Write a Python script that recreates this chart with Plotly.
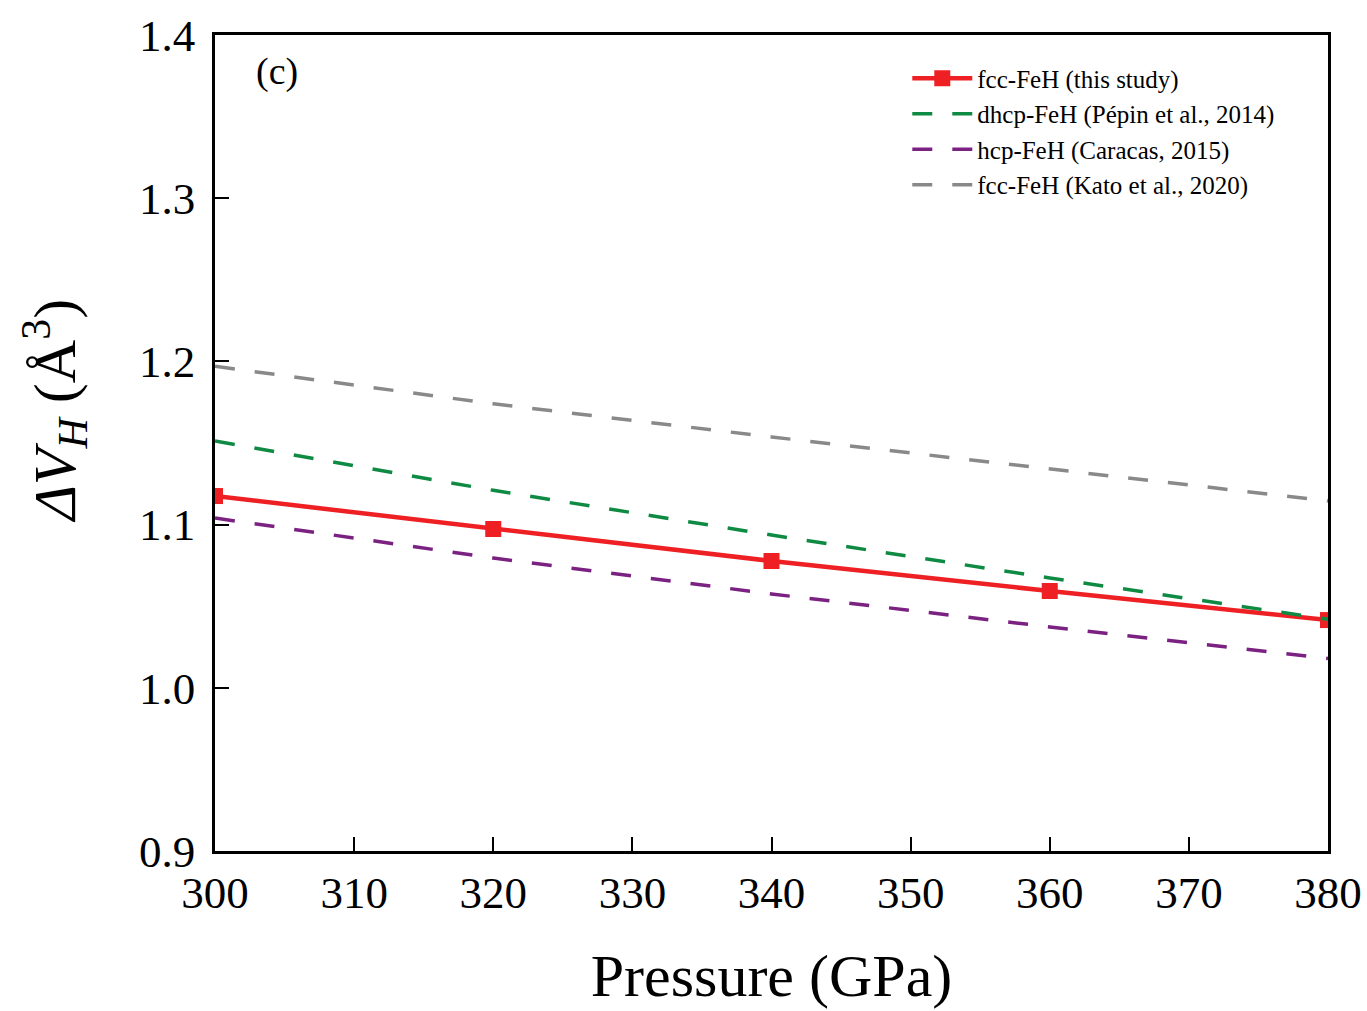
import plotly.graph_objects as go

pressure = [300, 320, 340, 360, 380]
fcc_this = [1.1175, 1.0973, 1.0777, 1.0593, 1.0415]
dhcp_pepin = [1.1512, 1.1210, 1.0936, 1.0673, 1.0420]
hcp_caracas = [1.1040, 1.0795, 1.0575, 1.0373, 1.0180]
fcc_kato = [1.1970, 1.1740, 1.1537, 1.1340, 1.1145]

font_family = "Liberation Serif"

fig = go.Figure()
fig.add_trace(go.Scatter(x=pressure, y=fcc_this, mode="lines+markers",
                         name="fcc-FeH (this study)",
                         line=dict(color="#ee2024", width=4.5),
                         marker=dict(symbol="square", size=16, color="#ee2024")))
fig.add_trace(go.Scatter(x=pressure, y=dhcp_pepin, mode="lines",
                         name="dhcp-FeH (Pépin et al., 2014)",
                         line=dict(color="#0f8a43", width=3.5, dash="20px,20px")))
fig.add_trace(go.Scatter(x=pressure, y=hcp_caracas, mode="lines",
                         name="hcp-FeH (Caracas, 2015)",
                         line=dict(color="#7b2181", width=3.5, dash="20px,20px")))
fig.add_trace(go.Scatter(x=pressure, y=fcc_kato, mode="lines",
                         name="fcc-FeH (Kato et al., 2020)",
                         line=dict(color="#898989", width=3.5, dash="20px,20px")))

fig.update_layout(
    width=1367, height=1011,
    margin=dict(l=215, r=39, t=35, b=160, autoexpand=False),
    paper_bgcolor="white", plot_bgcolor="white",
    font=dict(family=font_family, color="black"),
    showlegend=True,
    legend=dict(x=0.622, y=0.975, xanchor="left", yanchor="top",
                font=dict(size=25, family=font_family),
                bgcolor="rgba(0,0,0,0)", tracegroupgap=0, itemwidth=60),
    annotations=[
        dict(text="(c)", x=0.035, y=0.955, xref="paper", yref="paper",
             showarrow=False, xanchor="left", yanchor="middle",
             font=dict(size=38, family=font_family)),
        dict(text="<i>ΔV<sub>H</sub></i> (Å<sup>3</sup>)", textangle=-90,
             x=0, xref="paper", xshift=-160, y=0.54, yref="paper",
             showarrow=False, xanchor="center", yanchor="middle",
             font=dict(size=60, family=font_family)),
    ],
)
fig.update_xaxes(range=[300, 380], tickvals=[300, 310, 320, 330, 340, 350, 360, 370, 380],
                 ticks="inside", ticklen=14, tickwidth=2, tickcolor="black",
                 showline=True, linewidth=2.5, linecolor="black", mirror=True,
                 showgrid=False, zeroline=False, automargin=False,
                 tickfont=dict(size=45, family=font_family),
                 title=dict(text="Pressure (GPa)", font=dict(size=60, family=font_family), standoff=38))
fig.update_yaxes(range=[0.9, 1.4], tickvals=[0.9, 1.0, 1.1, 1.2, 1.3, 1.4],
                 ticktext=["0.9", "1.0", "1.1", "1.2", "1.3", "1.4"],
                 ticks="inside", ticklen=14, tickwidth=2, tickcolor="black",
                 showline=True, linewidth=2.5, linecolor="black", mirror=True,
                 showgrid=False, zeroline=False, ticklabelstandoff=8, automargin=False,
                 tickfont=dict(size=45, family=font_family))

fig.write_html("out.html")
